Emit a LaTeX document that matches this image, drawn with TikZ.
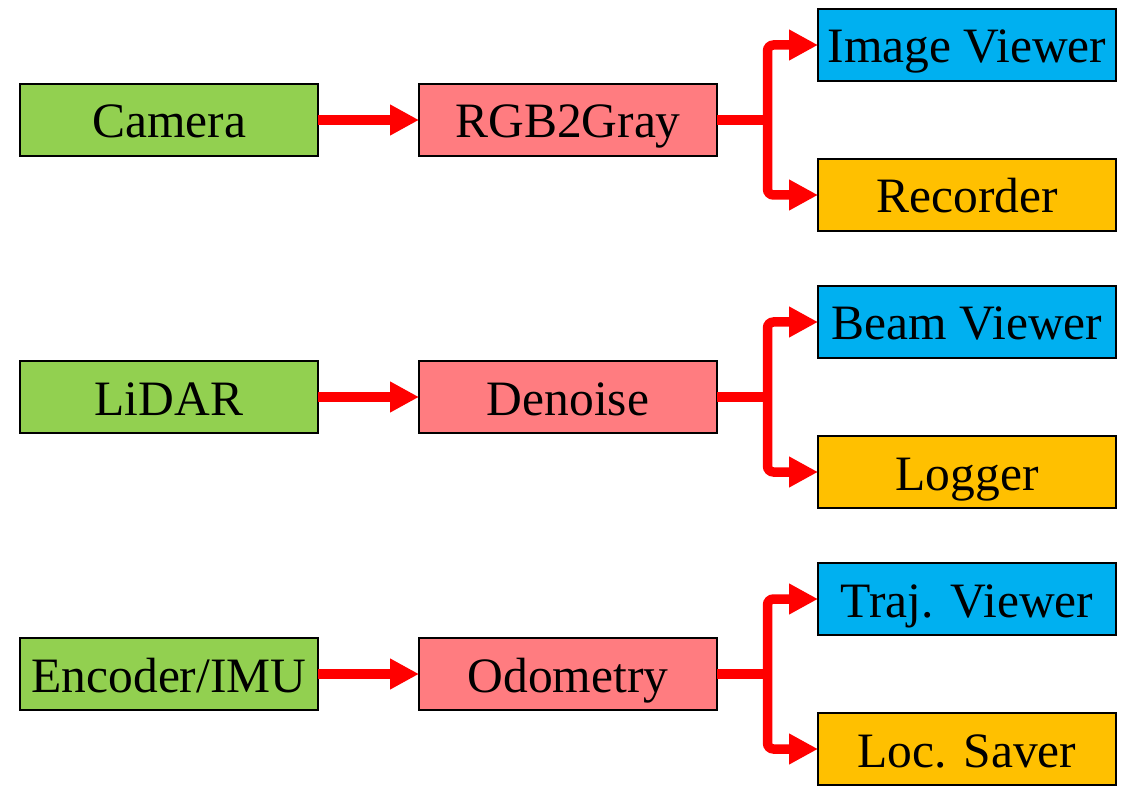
\documentclass[tikz,border=0pt]{standalone}
\usepackage{fontspec}
\setmainfont{Liberation Serif}
\usetikzlibrary{arrows.meta}
\definecolor{cgreen}{HTML}{92D050}
\definecolor{cpink}{HTML}{FF7C80}
\definecolor{cblue}{HTML}{00B0F0}
\definecolor{corange}{HTML}{FFC000}
\definecolor{cred}{HTML}{FF0000}
\tikzset{
  box/.style={draw=black, line width=2pt, minimum width=298pt, minimum height=72pt,
    inner sep=0pt, outer sep=0pt, text height=36pt, text depth=0pt,
    font=\fontsize{49.5}{56}\selectfont},
  src/.style={box, fill=cgreen},
  proc/.style={box, fill=cpink},
  view/.style={box, fill=cblue},
  sink/.style={box, fill=corange},
  flow/.style={draw=cred, line width=9.5pt, -{Triangle[length=29pt,width=29pt]}},
  stub/.style={draw=cred, line width=9.5pt},
  fork/.style={draw=cred, line width=9.5pt, rounded corners=6pt,
    {Triangle[length=29pt,width=29pt]}-{Triangle[length=29pt,width=29pt]}},
}
\begin{document}
\begin{tikzpicture}[x=1pt,y=-1pt]
\useasboundingbox (0,0) rectangle (1138,810);
% row 1
\node[src]  (cam)  at (169,120) {Camera};
\node[proc] (rgb)  at (568,120) {RGB2Gray};
\node[view] (iv)   at (967,45)  {Image Viewer};
\node[sink] (rec)  at (967,195) {Recorder};
% row 2
\node[src]  (lid)  at (169,397) {LiDAR};
\node[proc] (den)  at (568,397) {Denoise};
\node[view] (bv)   at (967,322) {Beam Viewer};
\node[sink] (log)  at (967,472) {Logger};
% row 3
\node[src]  (enc)  at (169,674) {Encoder/IMU};
\node[proc] (odo)  at (568,674) {Odometry};
\node[view] (tv)   at (967,599) {Traj. Viewer};
\node[sink] (loc)  at (967,749) {Loc. Saver};
% junctions
\coordinate (j1) at (767.5,120);
\coordinate (j2) at (767.5,397);
\coordinate (j3) at (767.5,674);
% connectors
\draw[flow] (cam) -- (rgb);
\draw[stub] (rgb.east) -- (j1);
\draw[fork] (iv.west) -| (j1) |- (rec.west);
\draw[flow] (lid) -- (den);
\draw[stub] (den.east) -- (j2);
\draw[fork] (bv.west) -| (j2) |- (log.west);
\draw[flow] (enc) -- (odo);
\draw[stub] (odo.east) -- (j3);
\draw[fork] (tv.west) -| (j3) |- (loc.west);
\end{tikzpicture}
\end{document}
